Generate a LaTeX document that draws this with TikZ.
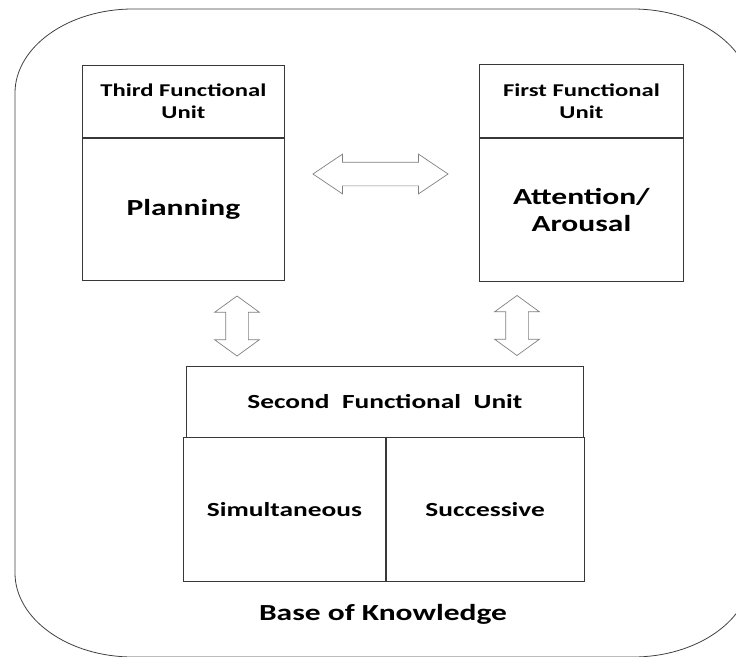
\documentclass[tikz,border=0pt]{standalone}
\usepackage{fontspec}
\setmainfont{Carlito}[FakeStretch=1.37]
\usepackage{tikz}
\usetikzlibrary{shapes.arrows, positioning}
\tikzset{
    unitbox/.style={
        rectangle, draw=black!78, line width=0.8pt, inner sep=0pt,
        text centered, align=center, text=black
    },
    headbox/.style={
        unitbox, font=\fontsize{18}{22}\selectfont\bfseries
    },
    bodybox/.style={
        unitbox, font=\fontsize{23}{27}\selectfont\bfseries
    },
    partbox/.style={
        unitbox, font=\fontsize{20}{24}\selectfont\bfseries
    },
    blockarrow/.style={
        double arrow, draw=black!50, fill=white, line width=0.7pt
    },
    uparrow/.style={
        blockarrow, shape border rotate=90, minimum height=60pt,
        inner xsep=11pt, inner ysep=0pt,
        double arrow head extend=11pt, double arrow tip angle=108
    }
}

\begin{document}
\begin{tikzpicture}[x=1pt, y=1pt]
    \clip (0,0) rectangle (736,-656);
    % base of knowledge frame
    \draw [black!75, line width=0.8pt]
        (133,-9) -- (633,-9)
        .. controls (698,-9) and (751,-47) .. (751,-93)
        -- (751,-573)
        .. controls (751,-619) and (698,-657) .. (633,-657)
        -- (133,-657)
        .. controls (68,-657) and (15,-619) .. (15,-573)
        -- (15,-93)
        .. controls (15,-47) and (68,-9) .. (133,-9) -- cycle;
    % third unit
    \node (thirdhead) [headbox, anchor=north west, minimum width=202pt, minimum height=72pt]
        at (82,-65) {Third Functional\\Unit};
    \node (planning) [bodybox, below=0pt of thirdhead, minimum width=202pt, minimum height=142pt] {Planning};
    % first unit
    \node (firsthead) [headbox, anchor=north west, minimum width=204pt, minimum height=73pt]
        at (479,-64) {First Functional\\Unit};
    \node (arousal) [bodybox, below=0pt of firsthead, minimum width=204pt, minimum height=143pt] {Attention/\\Arousal};
    % second unit
    \node (secondhead) [partbox, anchor=north west, minimum width=397pt, minimum height=71pt]
        at (186,-366) {Second\ \ Functional\ \ Unit};
    \node (simult) [partbox, anchor=north west, minimum width=202pt, minimum height=144pt]
        at (183,-437) {Simultaneous};
    \node (succ) [partbox, right=0pt of simult, minimum width=198pt, minimum height=144pt] {Successive};
    \node (base) [font=\fontsize{23}{27}\selectfont\bfseries] at (383,-614) {Base of Knowledge};
    % block arrows
    \node (planarrow) [blockarrow, minimum height=135pt, inner xsep=0pt, inner ysep=11.5pt,
        double arrow head extend=8pt, double arrow tip angle=68] at (380.5,-174) {};
    \node (leftarrow) [uparrow] at (237,-326) {};
    \node (rightarrow) [uparrow] at (517,-325.5) {};
\end{tikzpicture}
\end{document}
